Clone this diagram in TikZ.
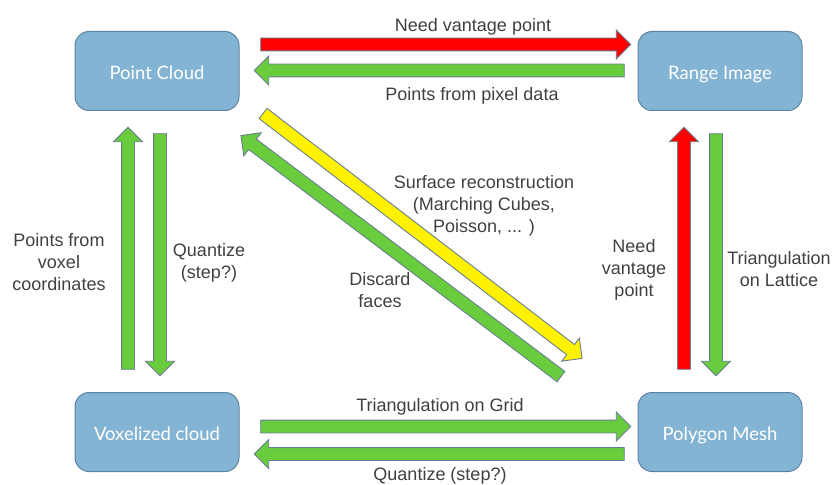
\documentclass[tikz,border=0pt]{standalone}
\usepackage{fontspec}
\setmainfont{Liberation Sans}
\newfontfamily\boxfont{Lato}
\usetikzlibrary{shapes.arrows,calc}

\definecolor{boxblue}{RGB}{132,180,211}
\definecolor{boxedge}{RGB}{92,132,162}
\definecolor{arrgreen}{RGB}{104,204,60}
\definecolor{arredge}{RGB}{105,125,145}
\definecolor{labelgray}{RGB}{64,64,64}

% block arrow between two points
\newcommand{\blockarrow}[3]{%
  \path let \p1=#2, \p2=#3,
    \n1={atan2(\y2-\y1,\x2-\x1)}, \n2={veclen(\x2-\x1,\y2-\y1)} in
    node[fatarrow, fill=#1, minimum height=\n2, rotate=\n1] at ($(\p1)!0.5!(\p2)$) {};}

\begin{document}
\begin{tikzpicture}[x=1pt, y=-1pt,
  stage/.style={draw=boxedge, fill=boxblue, line width=1pt, rounded corners=14pt,
    minimum width=164pt, minimum height=79pt, text=white,
    text height=17pt, text depth=0pt,
    font=\boxfont\fontsize{18.5}{22}\selectfont},
  lbl/.style={align=center, text=labelgray, inner sep=0pt,
    font=\fontsize{18}{22}\selectfont},
  fatarrow/.style={single arrow, draw=arredge, line width=0.9pt, inner sep=0pt,
    inner ysep=6pt, single arrow head extend=8pt}
]
\useasboundingbox (0,0) rectangle (834,484);

\node[stage] (pc) at (157,71) {Point Cloud};
\node[stage] (ri) at (720,71) {Range Image};
\node[stage] (vc) at (157,432) {Voxelized cloud};
\node[stage] (pm) at (720,432) {Polygon Mesh};

% top pair
\blockarrow{red}{([xshift=18pt,yshift=26.5pt]pc.east)}{([xshift=-10pt,yshift=26.5pt]ri.west)}
\blockarrow{arrgreen}{([xshift=-10pt,yshift=0.5pt]ri.west)}{([xshift=18pt,yshift=0.5pt]pc.east)}
% left pair
\blockarrow{arrgreen}{([xshift=-29pt,yshift=19.5pt]vc.north)}{([xshift=-29pt,yshift=-19.5pt]pc.south)}
\blockarrow{arrgreen}{([xshift=3pt,yshift=-19.5pt]pc.south)}{([xshift=3pt,yshift=19.5pt]vc.north)}
% right pair
\blockarrow{red}{([xshift=-36pt,yshift=19.5pt]pm.north)}{([xshift=-36pt,yshift=-19.5pt]ri.south)}
\blockarrow{arrgreen}{([xshift=-4pt,yshift=-19.5pt]ri.south)}{([xshift=-4pt,yshift=19.5pt]pm.north)}
% bottom pair
\blockarrow{arrgreen}{([xshift=18pt,yshift=5.5pt]vc.east)}{([xshift=-10pt,yshift=5.5pt]pm.west)}
\blockarrow{arrgreen}{([xshift=-10pt,yshift=-22pt]pm.west)}{([xshift=18pt,yshift=-22pt]vc.east)}
% diagonal pair
\blockarrow{yellow}{([xshift=21pt,yshift=-0.5pt]pc.south east)}{([xshift=-58pt,yshift=35.5pt]pm.north west)}
\blockarrow{arrgreen}{([xshift=-74pt,yshift=13.5pt]pm.north west)}{([xshift=4pt,yshift=-26.5pt]pc.south east)}

\node[lbl] (needtop) at (473,27) {Need vantage point};
\node[lbl] (pixel) at (472,95.5) {Points from pixel data};
\node[lbl] (surface) at (484,206) {Surface reconstruction\\(Marching Cubes,\\Poisson, ... )};
\node[lbl] (discard) at (380,290) {Discard\\faces};
\node[lbl] (voxelpts) at (59,262) {Points from\\voxel\\coordinates};
\node[lbl] (quantleft) at (209,263) {Quantize\\(step?)};
\node[lbl] (needright) at (634,270) {Need\\vantage\\point};
\node[lbl] (lattice) at (779,269) {Triangulation\\on Lattice};
\node[lbl] (grid) at (440,406.5) {Triangulation on Grid};
\node[lbl] (quantbottom) at (440,476) {Quantize (step?)};
\end{tikzpicture}
\end{document}
